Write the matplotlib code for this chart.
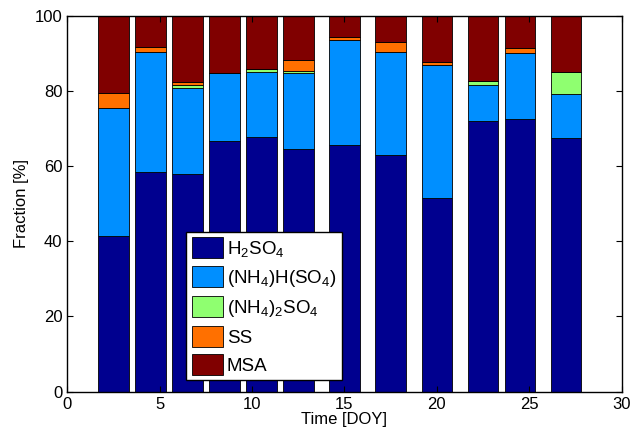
import numpy as np
import matplotlib
matplotlib.use('Agg')
from matplotlib import pyplot as plt

plt.rcParams['font.family'] = ['Liberation Sans', 'DejaVu Sans']
plt.rcParams['mathtext.default'] = 'regular'

# sample days and composition fractions (%)
doy = [2.5, 4.5, 6.5, 8.5, 10.5, 12.5, 15, 17.5, 20, 22.5, 24.5, 27]
h2so4 = [41.4, 58.3, 58.0, 66.6, 67.7, 64.5, 65.6, 62.9, 51.4, 72.0, 72.6, 67.5]
nh4hso4 = [34.0, 32.1, 22.7, 18.1, 17.4, 20.2, 27.9, 27.5, 35.4, 9.6, 17.4, 11.8]
nh42so4 = [0.0, 0.0, 0.9, 0.0, 0.7, 0.6, 0.0, 0.0, 0.0, 1.1, 0.0, 5.7]
ss = [4.0, 1.4, 0.8, 0.0, 0.0, 2.9, 0.9, 2.6, 0.8, 0.0, 1.3, 0.0]
msa = [20.6, 8.2, 17.6, 15.3, 14.2, 11.8, 5.6, 7.0, 12.4, 17.3, 8.7, 15.0]

labels = ['H$_2$SO$_4$', '(NH$_4$)H(SO$_4$)', '(NH$_4$)$_2$SO$_4$', 'SS', 'MSA']
colors = [(0, 0, 0.5625), (0, 0.5625, 1), (0.5625, 1, 0.4375),
          (1, 0.4375, 0), (0.5, 0, 0)]

fig = plt.figure(figsize=(6.33, 4.33), dpi=100)
ax = fig.add_axes([0.1063, 0.0954, 0.8758, 0.8683])

bottom = np.zeros(len(doy))
for vals, lab, col in zip([h2so4, nh4hso4, nh42so4, ss, msa], labels, colors):
    ax.bar(doy, vals, width=1.65, bottom=bottom, color=col, label=lab,
           edgecolor='black', linewidth=0.6)
    bottom += np.array(vals)

ax.set_xlim(0, 30)
ax.set_ylim(0, 100)
ax.set_xticks(np.arange(0, 31, 5))
ax.set_yticks(np.arange(0, 101, 20))
ax.tick_params(direction='in', top=True, right=True, labelsize=12, length=4)
for s in ax.spines.values():
    s.set_linewidth(1.0)
ax.set_xlabel('Time [DOY]', fontsize=12, labelpad=0)
ax.set_ylabel('Fraction [%]', fontsize=12, labelpad=4)

leg = ax.legend(loc='lower left', bbox_to_anchor=(0.215, 0.03), fontsize=13.5,
                frameon=True, fancybox=False, edgecolor='black', framealpha=1,
                handlelength=1.65, handleheight=1.3, handletextpad=0.2,
                labelspacing=0.4, borderpad=0.3, borderaxespad=0)
leg.get_frame().set_linewidth(1.0)

fig.savefig('out.png', dpi=100)
